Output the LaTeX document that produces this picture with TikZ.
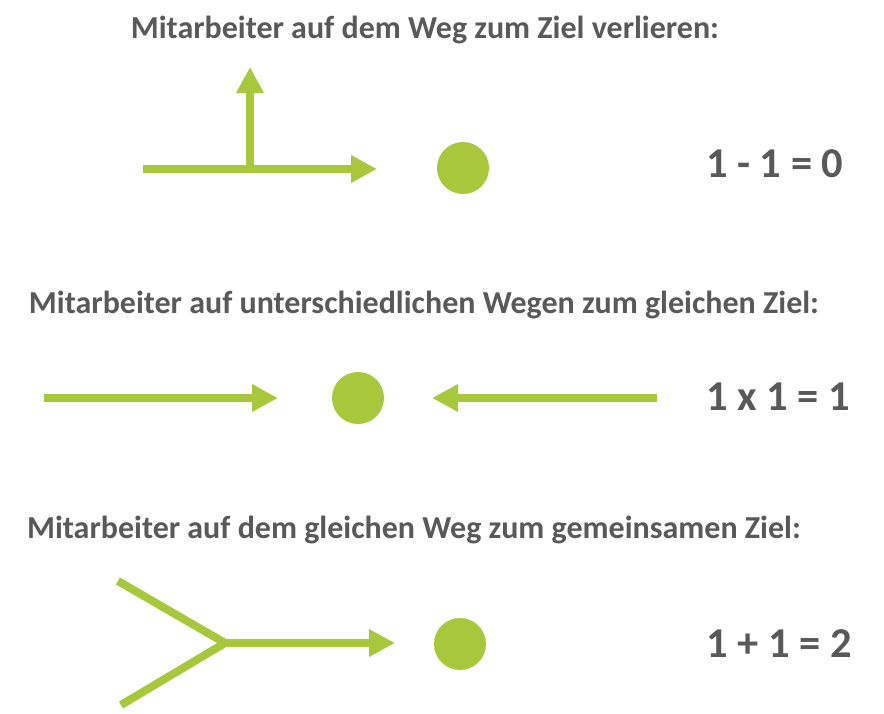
\documentclass[tikz,border=0pt]{standalone}
\usepackage{fontspec}
\setmainfont{Carlito}
\usetikzlibrary{arrows.meta}
\definecolor{leaf}{RGB}{166,200,58}
\definecolor{ink}{RGB}{89,89,89}
\tikzset{
  title/.style={font=\fontsize{32}{36}\selectfont\bfseries, text=ink, anchor=base, inner sep=0pt},
  eqn/.style={font=\fontsize{42.5}{46}\selectfont\bfseries, text=ink, anchor=base west, inner sep=0pt},
  dot/.style={circle, fill=leaf, draw=none, minimum size=52pt, inner sep=0pt},
  path/.style={draw=leaf, line width=8pt},
  arr/.style={path, -{Triangle[length=26pt,width=26pt]}},
}
\begin{document}
\begin{tikzpicture}[x=1pt,y=-1pt]
\useasboundingbox (0,0) rectangle (884,713);
% Row 1
\node[title] (t1) at (425,38) {Mitarbeiter auf dem Weg zum Ziel verlieren:};
\node[dot] (g1) at (463,168) {};
\coordinate (a1s) at (143,169);
\coordinate (a1e) at (377,169);
\coordinate (v1s) at (250,169);
\coordinate (v1e) at (250,67);
\draw[arr] (a1s) -- (a1e);
\draw[arr] (v1s) -- (v1e);
\node[eqn] (e1) at (706,177) {1 - 1 = 0};
% Row 2
\node[title] (t2) at (424,313) {Mitarbeiter auf unterschiedlichen Wegen zum gleichen Ziel:};
\node[dot] (g2) at (358,398) {};
\coordinate (l2s) at (44,398);
\coordinate (l2e) at (278,398);
\coordinate (r2s) at (657,398);
\coordinate (r2e) at (432,398);
\draw[arr] (l2s) -- (l2e);
\draw[arr] (r2s) -- (r2e);
\node[eqn] (e2) at (706,410) {1 x 1 = 1};
% Row 3
\node[title] (t3) at (414,538) {Mitarbeiter auf dem gleichen Weg zum gemeinsamen Ziel:};
\node[dot] (g3) at (460,644) {};
\coordinate (b1) at (118,581);
\coordinate (b2) at (121,705);
\coordinate (j3) at (225,643);
\coordinate (a3e) at (395,643);
\draw[path] (b1) -- (j3) -- (b2);
\draw[arr] (j3) -- (a3e);
\node[eqn] (e3) at (706,657) {1 + 1 = 2};
\end{tikzpicture}
\end{document}
